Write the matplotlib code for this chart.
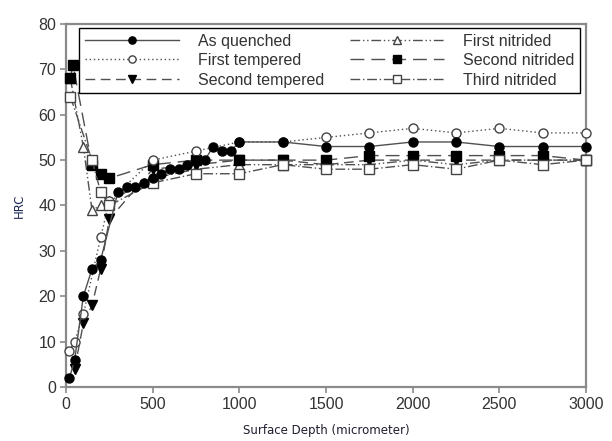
import matplotlib
matplotlib.use("Agg")
import matplotlib.pyplot as plt

# ---- data ----
aq_x = [20, 50, 100, 150, 200, 300, 350, 400, 450, 500, 550, 600, 650, 700, 750, 800,
        850, 900, 950, 1000, 1250, 1500, 1750, 2000, 2250, 2500, 2750, 3000]
aq_y = [2, 6, 20, 26, 28, 43, 44, 44, 45, 46, 47, 48, 48, 49, 50, 50,
        53, 52, 52, 54, 54, 53, 53, 54, 54, 53, 53, 53]

ft_x = [20, 50, 100, 200, 250, 500, 750, 1000, 1250, 1500, 1750, 2000, 2250, 2500, 2750, 3000]
ft_y = [8, 10, 16, 33, 41, 50, 52, 54, 54, 55, 56, 57, 56, 57, 56, 56]

st_x = [50, 100, 150, 200, 250, 500, 750, 1000, 1250, 1500, 1750, 2000, 2250, 2500, 2750, 3000]
st_y = [4, 14, 18, 26, 37, 48, 49, 50, 50, 49, 50, 50, 50, 50, 50, 50]

fn_x = [25, 100, 150, 200, 250, 500, 750, 1000, 1250, 1500, 1750, 2000, 2250, 2500, 2750, 3000]
fn_y = [68, 53, 39, 40, 41, 46, 48, 49, 49, 49, 49, 50, 49, 50, 50, 50]

sn_x = [25, 40, 150, 200, 250, 500, 750, 1000, 1250, 1500, 1750, 2000, 2250, 2500, 2750, 3000]
sn_y = [68, 71, 49, 47, 46, 49, 50, 50, 50, 50, 51, 51, 51, 51, 51, 50]

tn_x = [25, 150, 200, 250, 500, 750, 1000, 1250, 1500, 1750, 2000, 2250, 2500, 2750, 3000]
tn_y = [64, 50, 43, 40, 45, 47, 47, 49, 48, 48, 49, 48, 50, 49, 50]

labels = ["As quenched", "First tempered", "Second tempered",
          "First nitrided", "Second nitrided", "Third nitrided"]
x_ticks = [0, 500, 1000, 1500, 2000, 2500, 3000]
y_ticks = [0, 10, 20, 30, 40, 50, 60, 70, 80]

# ---- figure ----
fig = plt.figure(figsize=(6.12, 4.41), dpi=100)
ax = fig.add_axes([66/612, 1-387/441, 520/612, 363/441])

lc = "#505050"
ms = 6.5
common = dict(lw=1.0, color=lc, ms=ms, clip_on=False)

ax.plot(aq_x, aq_y, ls="-", marker="o", mfc="black", mec="black", label=labels[0], zorder=6, **common)
ax.plot(ft_x, ft_y, ls=(0, (1, 2)), marker="o", mfc="white", mec="#444444", label=labels[1], zorder=5, **common)
ax.plot(st_x, st_y, ls=(0, (7, 4)), marker="v", mfc="black", mec="black", label=labels[2], zorder=4, **common)
ax.plot(fn_x, fn_y, ls=(0, (7, 2, 1, 2, 1, 2)), marker="^", mfc="white", mec="#444444", label=labels[3], zorder=3, **common)
ax.plot(sn_x, sn_y, ls=(0, (10, 5)), marker="s", mfc="black", mec="black", label=labels[4], zorder=4, **common)
ax.plot(tn_x, tn_y, ls=(0, (7, 2, 1, 2)), marker="s", mfc="white", mec="#444444", label=labels[5], zorder=5, **common)

ax.set_xlim(0, 3000)
ax.set_ylim(0, 80)
ax.set_xticks(x_ticks)
ax.set_yticks(y_ticks)

for s in ax.spines.values():
    s.set_color("#8a8a8a")
    s.set_linewidth(1.6)

ax.tick_params(direction="out", length=4, width=1.2, color="#8a8a8a",
               labelcolor="#333333", labelsize=11.5, pad=3)
for lab in ax.get_xticklabels() + ax.get_yticklabels():
    lab.set_fontfamily("Liberation Sans")

ax.set_xlabel("Surface Depth (micrometer)", fontsize=8.5, family="DejaVu Sans",
              color="#1e1e2e", labelpad=9)
ax.set_ylabel("HRC", fontsize=8.5, family="DejaVu Sans", color="#1e2a55", labelpad=9)

leg = ax.legend(ncol=2, loc="upper left",
                bbox_to_anchor=(79/612, 1-95/441, 501/612, 67/441),
                bbox_transform=fig.transFigure, mode="expand",
                frameon=True, fancybox=False, framealpha=1, edgecolor="black",
                handlelength=5.9, handletextpad=1.2, labelspacing=0.28,
                borderpad=0.35, borderaxespad=0, columnspacing=0.9,
                markerscale=0.8,
                prop={"family": "Liberation Sans", "size": 11.5})
leg.get_frame().set_linewidth(1.0)
leg.set_zorder(10)
for t in leg.get_texts():
    t.set_color("#333333")

fig.savefig("out.png", dpi=100)
